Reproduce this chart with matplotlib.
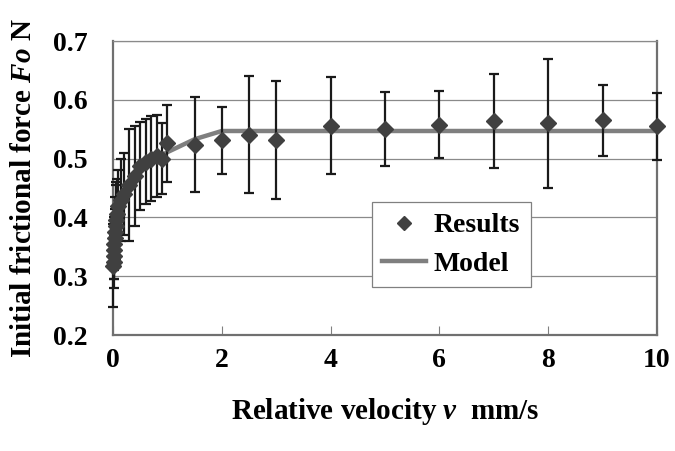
import numpy as np
import matplotlib.pyplot as plt
from matplotlib.lines import Line2D

velocity = [0.005, 0.01, 0.015, 0.02, 0.025, 0.03, 0.04, 0.05, 0.06, 0.08,
            0.1, 0.15, 0.2, 0.3, 0.4, 0.5, 0.6, 0.7, 0.8, 0.9,
            1.0, 1.5, 2, 2.5, 3, 4, 5, 6, 7, 8, 9, 10]
force = [0.318, 0.325, 0.335, 0.345, 0.355, 0.365, 0.375, 0.385, 0.395, 0.405,
         0.42, 0.43, 0.44, 0.455, 0.47, 0.488, 0.495, 0.50, 0.505, 0.50,
         0.526, 0.524, 0.531, 0.541, 0.532, 0.556, 0.551, 0.558, 0.564, 0.560, 0.565, 0.555]
error = [0.07, 0.045, 0.04, 0.05, 0.045, 0.05, 0.06, 0.07, 0.065, 0.06,
         0.06, 0.07, 0.07, 0.095, 0.085, 0.075, 0.073, 0.072, 0.07, 0.06,
         0.066, 0.08, 0.057, 0.10, 0.10, 0.082, 0.063, 0.057, 0.08, 0.11, 0.061, 0.057]

# model curve
model_v = [0, 0.1, 0.2, 0.3, 0.4, 0.5, 0.6, 0.7, 0.8, 0.9, 1.0, 1.5, 2, 10]
model_f = [0.40, 0.425, 0.44, 0.455, 0.467, 0.477, 0.486, 0.494, 0.50, 0.506,
           0.511, 0.533, 0.547, 0.547]

plt.rcParams['font.family'] = 'Liberation Serif'
plt.rcParams['font.weight'] = 'bold'
plt.rcParams['axes.labelweight'] = 'bold'
plt.rcParams['mathtext.fontset'] = 'custom'
plt.rcParams['mathtext.rm'] = 'Liberation Serif:bold'
plt.rcParams['mathtext.it'] = 'Liberation Serif:italic:bold'
plt.rcParams['mathtext.bf'] = 'Liberation Serif:bold'

fig = plt.figure(figsize=(6.75, 4.51), dpi=100)
ax = fig.add_axes([0.1674, 0.2572, 0.8059, 0.6518])

ax.plot(model_v, model_f, color='#7f7f7f', lw=3.2, zorder=2)
ax.errorbar(velocity, force, yerr=error, fmt='D', ms=8.5, color='#404040',
            ecolor='#1a1a1a', elinewidth=1.6, capsize=3.6, capthick=1.6,
            zorder=3, clip_on=False)

ax.set_xlim(0, 10)
ax.set_ylim(0.2, 0.7)
ax.set_xticks([0, 2, 4, 6, 8, 10])
ax.set_yticks([0.2, 0.3, 0.4, 0.5, 0.6, 0.7])
ax.set_yticklabels(['0.2', '0.3', '0.4', '0.5', '0.6', '0.7'])
ax.grid(axis='y', color='#8a8a8a', lw=0.9)
ax.set_axisbelow(True)
ax.tick_params(axis='x', direction='in', length=6.5, width=0.8, color='#808080',
               pad=9, labelsize=20)
ax.tick_params(axis='y', length=0, pad=18, labelsize=20)

for side in ['left', 'bottom', 'right']:
    ax.spines[side].set_color('#707070')
    ax.spines[side].set_linewidth(1.6)
ax.spines['top'].set_color('#8a8a8a')
ax.spines['top'].set_linewidth(0.9)

ax.set_xlabel(r'Relative velocity $\mathit{v}$  mm/s', fontsize=21, labelpad=17)
ax.set_ylabel(r'Initial frictional force $\mathit{Fo}$ N', fontsize=21, labelpad=12)

handles = [Line2D([], [], ls='none', marker='D', ms=7.5, color='#404040'),
           Line2D([], [], color='#7f7f7f', lw=3.2)]
leg = ax.legend(handles, ['Results', 'Model'], loc='upper left',
                bbox_to_anchor=(0.476, 0.451), fontsize=20, fancybox=False,
                edgecolor='#808080', framealpha=1, borderpad=0.38,
                handlelength=1.55, handletextpad=0.3, labelspacing=0.47,
                borderaxespad=0)
leg.get_frame().set_linewidth(0.9)

fig.savefig('out.png', dpi=100)
